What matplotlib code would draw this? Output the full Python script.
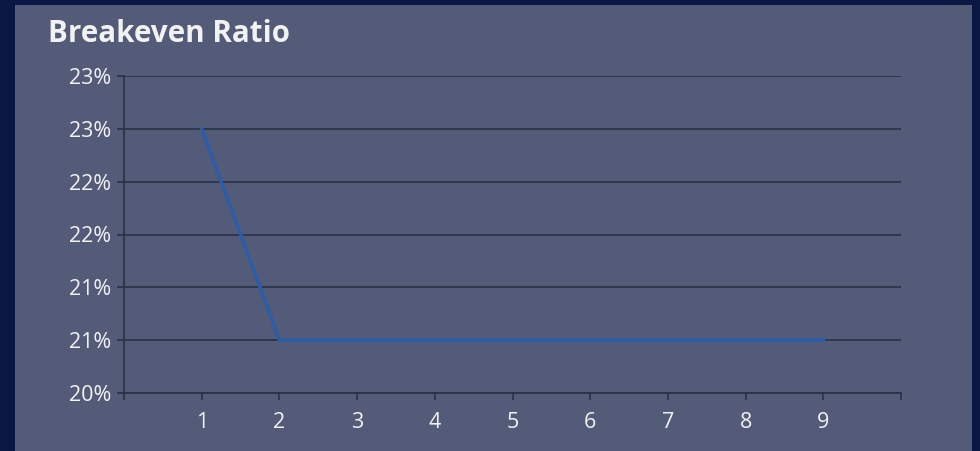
import matplotlib.pyplot as plt
from matplotlib.patches import Rectangle

# Breakeven ratio per period (percent)
periods = [1, 2, 3, 4, 5, 6, 7, 8, 9]
ratio = [22.5, 20.5, 20.5, 20.5, 20.5, 20.5, 20.5, 20.5, 20.5]

y_ticks = [20.0, 20.5, 21.0, 21.5, 22.0, 22.5, 23.0]
y_labels = ["20%", "21%", "21%", "22%", "22%", "23%", "23%"]
x_ticks = list(range(0, 11))
x_labels = [""] + [str(p) for p in periods] + [""]

navy = "#0b1743"
panel = "#545b78"
grid_c = "#2b3044"
text_c = "#f2f2f2"

plt.rcParams['font.family'] = ['Open Sans', 'DejaVu Sans']

fig = plt.figure(figsize=(9.8, 4.51), dpi=100, facecolor=navy)
fig.patches.append(Rectangle((15 / 980, 0), (972 - 15) / 980, 1 - 5 / 451,
                             transform=fig.transFigure, facecolor=panel,
                             edgecolor="none", zorder=-1))

ax = fig.add_axes([124 / 980, 1 - 393 / 451, (901 - 124) / 980, (393 - 76) / 451])
ax.set_zorder(2)
ax.set_facecolor(panel)

ax.plot(periods, ratio, color="#2a5ea8", linewidth=2.6, zorder=3)

ax.set_xlim(0, 10)
ax.set_ylim(20, 23)
ax.set_xticks(x_ticks)
ax.set_xticklabels(x_labels)
ax.set_yticks(y_ticks)
ax.set_yticklabels(y_labels)

ax.grid(axis="y", color=grid_c, linewidth=1.2)
ax.grid(axis="x", visible=False)
for side in ["top", "right"]:
    ax.spines[side].set_visible(False)
for side in ["left", "bottom"]:
    ax.spines[side].set_color(grid_c)
    ax.spines[side].set_linewidth(1.2)

ax.tick_params(axis="both", colors=grid_c, labelcolor=text_c, labelsize=15.5,
               length=5, width=1.2)
ax.tick_params(axis="x", pad=9)
ax.tick_params(axis="y", pad=4)

fig.text(48 / 980, 1 - 34 / 451, "Breakeven Ratio", color=text_c,
         fontsize=21.3, fontweight="bold", va="center", ha="left")

fig.savefig("out.png", dpi=100, facecolor=navy)
